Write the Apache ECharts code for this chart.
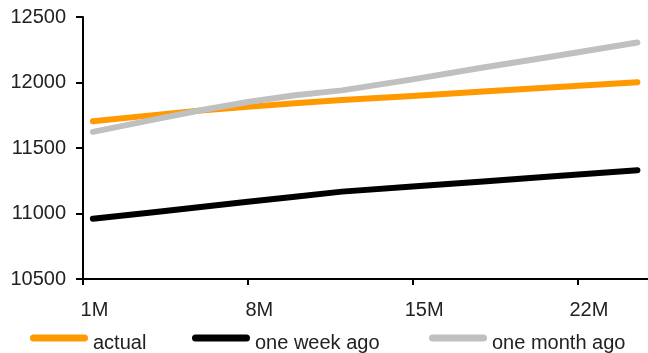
<!DOCTYPE html>
<html>
<head>
<meta charset="utf-8">
<script src="https://cdn.jsdelivr.net/npm/echarts@6/dist/echarts.min.js"></script>
<style>html,body{margin:0;padding:0;background:#fff;}#c{width:648px;height:353px;}</style>
</head>
<body>
<div id="c"></div>
<script>
// month positions (months)
const months = [1.42, 4, 6, 8, 10, 12, 15, 18, 21, 24.55];
const actual = [11705, 11751, 11786, 11814, 11841, 11866, 11897, 11932, 11964, 12002];
const oneWeekAgo = [10960, 11010, 11049, 11089, 11128, 11167, 11206, 11245, 11284, 11330];
const oneMonthAgo = [11623, 11717, 11788, 11851, 11903, 11940, 12024, 12114, 12201, 12305];
const xTickMonths = [1, 8, 15, 22];
const seriesNames = ['actual', 'one week ago', 'one month ago'];

const toPairs = vals => vals.map((v, i) => [months[i] - 1, v]);
const font = '"Liberation Sans", Arial, sans-serif';
const chart = echarts.init(document.getElementById('c'), null, {renderer: 'canvas'});
const mk = (name, vals, color) => ({
  name, type: 'line', data: toPairs(vals), showSymbol: false, smooth: false,
  lineStyle: {width: 6, color, cap: 'round', join: 'round'}, itemStyle: {color},
  animation: false
});
// rounded bar in the top part of the icon box, invisible anchor point lower down
const iconPath = 'path://M3.5,0 L54.5,0 A3.5,3.5 0 0 1 54.5,7 L3.5,7 A3.5,3.5 0 0 1 3.5,0 Z M0,17 Z';
const legendAt = (name, left) => ({
  data: [name], left, top: 333, padding: 0, itemWidth: 58, itemHeight: 17,
  icon: iconPath,
  textStyle: {fontSize: 20, fontFamily: font, color: '#222'}
});
chart.setOption({
  animation: false,
  grid: {left: 83, right: 0, top: 17, bottom: 74, containLabel: false},
  xAxis: {
    type: 'value', min: 0, max: 24, interval: 7,
    splitLine: {show: false},
    axisLine: {show: true, lineStyle: {color: '#000', width: 2}},
    axisTick: {show: true, length: 6, inside: false, lineStyle: {color: '#000', width: 2},
      customValues: xTickMonths.map(m => m - 1)},
    axisLabel: {customValues: xTickMonths.map(m => m - 1), formatter: v => (Math.round(v) + 1) + 'M',
      fontSize: 20, fontFamily: font, color: '#222', margin: 21, padding: [0, 0, 0, 23]}
  },
  yAxis: {
    type: 'value', min: 10500, max: 12500, interval: 500,
    splitLine: {show: false},
    axisLine: {show: true, lineStyle: {color: '#000', width: 2}},
    axisTick: {show: true, length: 7, lineStyle: {color: '#000', width: 2}},
    axisLabel: {fontSize: 20, fontFamily: font, color: '#222', margin: 17, formatter: v => String(v)}
  },
  legend: [legendAt(seriesNames[0], 30), legendAt(seriesNames[1], 192), legendAt(seriesNames[2], 429)],
  series: [
    mk(seriesNames[0], actual, '#FF9900'),
    mk(seriesNames[1], oneWeekAgo, '#000000'),
    mk(seriesNames[2], oneMonthAgo, '#C0C0C0')
  ]
});
</script>
</body>
</html>
